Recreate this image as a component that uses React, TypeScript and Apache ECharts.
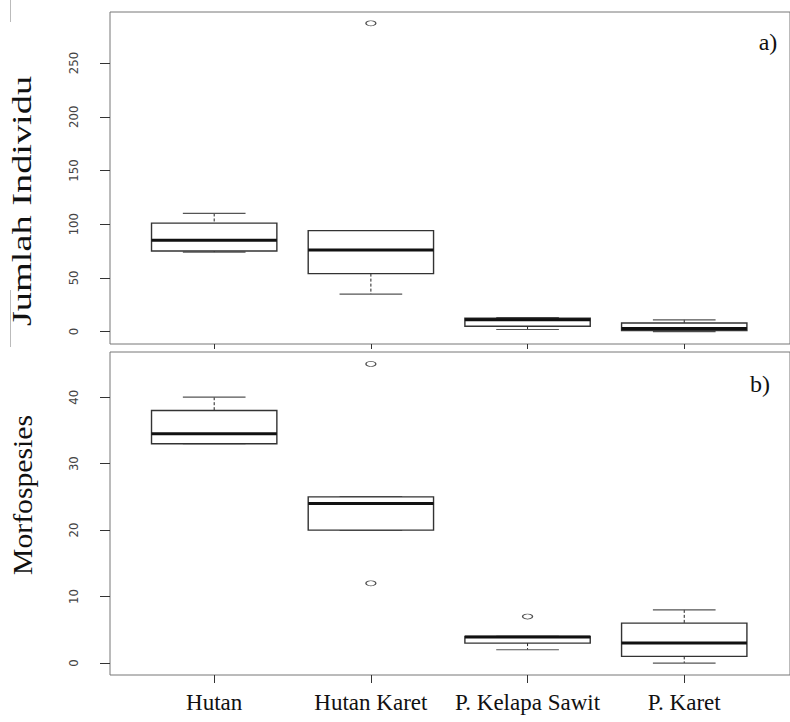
import React, { useEffect, useRef } from "react";
import * as echarts from "echarts";

const categories = ["Hutan", "Hutan Karet", "P. Kelapa Sawit", "P. Karet"];
// [low whisker, Q1, median, Q3, high whisker]
const individuStats = [
  [74, 75, 85, 101, 110],
  [35, 54, 76, 94, 94],
  [2, 5, 11, 12.4, 13],
  [0, 1, 3, 8, 11],
];
const individuOutliers = [[2, 287]];
const morfoStats = [
  [33, 33, 34.5, 38, 40],
  [20, 20, 24, 25, 25],
  [2, 3, 3.9, 4, 4],
  [0, 1, 3, 6, 8],
];
const morfoOutliers = [
  [2, 45],
  [2, 12],
  [3, 7],
];
const individuTicks = [0, 50, 100, 150, 200, 250];
const morfoTicks = [0, 10, 20, 30, 40];
const catPositions = [1, 2, 3, 4];

const toBoxData = (stats: number[][]) => stats.map((s, i) => [i + 1, ...s]);

const renderBox = (params: any, api: any) => {
  const x = api.value(0);
  const low = api.coord([x, api.value(1)]);
  const q1 = api.coord([x, api.value(2)]);
  const med = api.coord([x, api.value(3)]);
  const q3 = api.coord([x, api.value(4)]);
  const high = api.coord([x, api.value(5)]);
  const half = api.size([0.8, 0])[0] / 2;
  const capHalf = half / 2;
  const cx = low[0];
  const dashStyle = { stroke: "#222", lineWidth: 1, lineDash: [3, 2] };
  const capStyle = { stroke: "#555", lineWidth: 1.2 };
  return {
    type: "group",
    children: [
      { type: "line", shape: { x1: cx, y1: high[1], x2: cx, y2: q3[1] }, style: dashStyle },
      { type: "line", shape: { x1: cx, y1: q1[1], x2: cx, y2: low[1] }, style: dashStyle },
      { type: "line", shape: { x1: cx - capHalf, y1: high[1], x2: cx + capHalf, y2: high[1] }, style: capStyle },
      { type: "line", shape: { x1: cx - capHalf, y1: low[1], x2: cx + capHalf, y2: low[1] }, style: capStyle },
      {
        type: "rect",
        shape: { x: cx - half, y: q3[1], width: half * 2, height: q1[1] - q3[1] },
        style: { fill: "#fff", stroke: "#333", lineWidth: 1.4 },
      },
      { type: "line", shape: { x1: cx - half, y1: med[1], x2: cx + half, y2: med[1] }, style: { stroke: "#111", lineWidth: 3 } },
    ],
  };
};

const tickFont = "'Liberation Sans Narrow', 'DejaVu Sans Condensed', 'Arial Narrow', sans-serif";
const serif = "'Liberation Serif', 'Times New Roman', serif";

export default function App() {
  const ref = useRef<HTMLDivElement>(null);
  useEffect(() => {
    if (!ref.current) return;
    const chart = echarts.init(ref.current, undefined, { renderer: "svg" });
    const xMin = 0.335;
    const xMax = 4.675;
    const commonX = {
      type: "value",
      min: xMin,
      max: xMax,
      splitLine: { show: false },
      axisLine: { show: false, onZero: false },
    };
    const yCommon = (ticks: number[]) => ({
      type: "value",
      splitLine: { show: false },
      axisLine: { show: false, onZero: false },
      axisTick: { show: true, length: 10, customValues: ticks, lineStyle: { color: "#333" } },
      axisLabel: {
        show: true,
        customValues: ticks,
        rotate: 90,
        margin: 30,
        fontSize: 13,
        fontFamily: tickFont,
        color: "#444",
        formatter: (v: number) => String(v),
      },
    });
    chart.setOption({
      animation: false,
      backgroundColor: "#fff",
      grid: [
        { left: 110, top: 12, width: 691.5, height: 332, show: true, borderColor: "#777", borderWidth: 1, backgroundColor: "transparent" },
        { left: 110, top: 352, width: 691.5, height: 323, show: true, borderColor: "#777", borderWidth: 1, backgroundColor: "transparent" },
      ],
      xAxis: [
        {
          ...commonX,
          gridIndex: 0,
          axisTick: { show: true, length: 5, customValues: catPositions, lineStyle: { color: "#333" } },
          axisLabel: { show: false },
        },
        {
          ...commonX,
          gridIndex: 1,
          axisTick: { show: true, length: 8, customValues: catPositions, lineStyle: { color: "#333" } },
          axisLabel: {
            show: true,
            customValues: catPositions,
            formatter: (v: number) => categories[Math.round(v) - 1] ?? "",
            fontFamily: serif,
            fontSize: 23,
            color: "#111",
            margin: 16,
          },
        },
      ],
      yAxis: [
        { ...yCommon(individuTicks), gridIndex: 0, min: -11.5, max: 297.5 },
        { ...yCommon(morfoTicks), gridIndex: 1, min: -1.8, max: 46.8 },
      ],
      series: [
        {
          type: "custom",
          xAxisIndex: 0,
          yAxisIndex: 0,
          renderItem: renderBox,
          encode: { x: 0, y: [1, 2, 3, 4, 5] },
          data: toBoxData(individuStats),
        },
        {
          type: "scatter",
          xAxisIndex: 0,
          yAxisIndex: 0,
          symbol: "circle",
          symbolSize: [10, 5],
          itemStyle: { color: "#fff", borderColor: "#222", borderWidth: 1 },
          data: individuOutliers,
        },
        {
          type: "custom",
          xAxisIndex: 1,
          yAxisIndex: 1,
          renderItem: renderBox,
          encode: { x: 0, y: [1, 2, 3, 4, 5] },
          data: toBoxData(morfoStats),
        },
        {
          type: "scatter",
          xAxisIndex: 1,
          yAxisIndex: 1,
          symbol: "circle",
          symbolSize: [10, 5],
          itemStyle: { color: "#fff", borderColor: "#222", borderWidth: 1 },
          data: morfoOutliers,
        },
      ],
      graphic: [
        {
          type: "text",
          x: 22,
          y: 201,
          rotation: Math.PI / 2,
          scaleX: 1.42,
          style: { text: "Jumlah Individu", font: `27px ${serif}`, fill: "#111", align: "center", verticalAlign: "middle" },
        },
        {
          type: "text",
          x: 22,
          y: 495,
          rotation: Math.PI / 2,
          scaleX: 1.06,
          style: { text: "Morfospesies", font: `28px ${serif}`, fill: "#111", align: "center", verticalAlign: "middle" },
        },
        {
          type: "text",
          x: 768,
          y: 42,
          style: { text: "a)", font: `24px ${serif}`, fill: "#111", align: "center", verticalAlign: "middle" },
        },
        {
          type: "text",
          x: 760,
          y: 384,
          style: { text: "b)", font: `24px ${serif}`, fill: "#111", align: "center", verticalAlign: "middle" },
        },
        { type: "line", shape: { x1: 10.5, y1: 0, x2: 10.5, y2: 22 }, style: { stroke: "#bbb", lineWidth: 1 } },
        { type: "line", shape: { x1: 10.5, y1: 290, x2: 10.5, y2: 347 }, style: { stroke: "#bbb", lineWidth: 1 } },
      ],
    });
    return () => chart.dispose();
  }, []);
  return (
    <div
      ref={ref}
      style={{ position: "fixed", left: 0, top: 0, width: 790, height: 722, background: "#fff" }}
    />
  );
}
